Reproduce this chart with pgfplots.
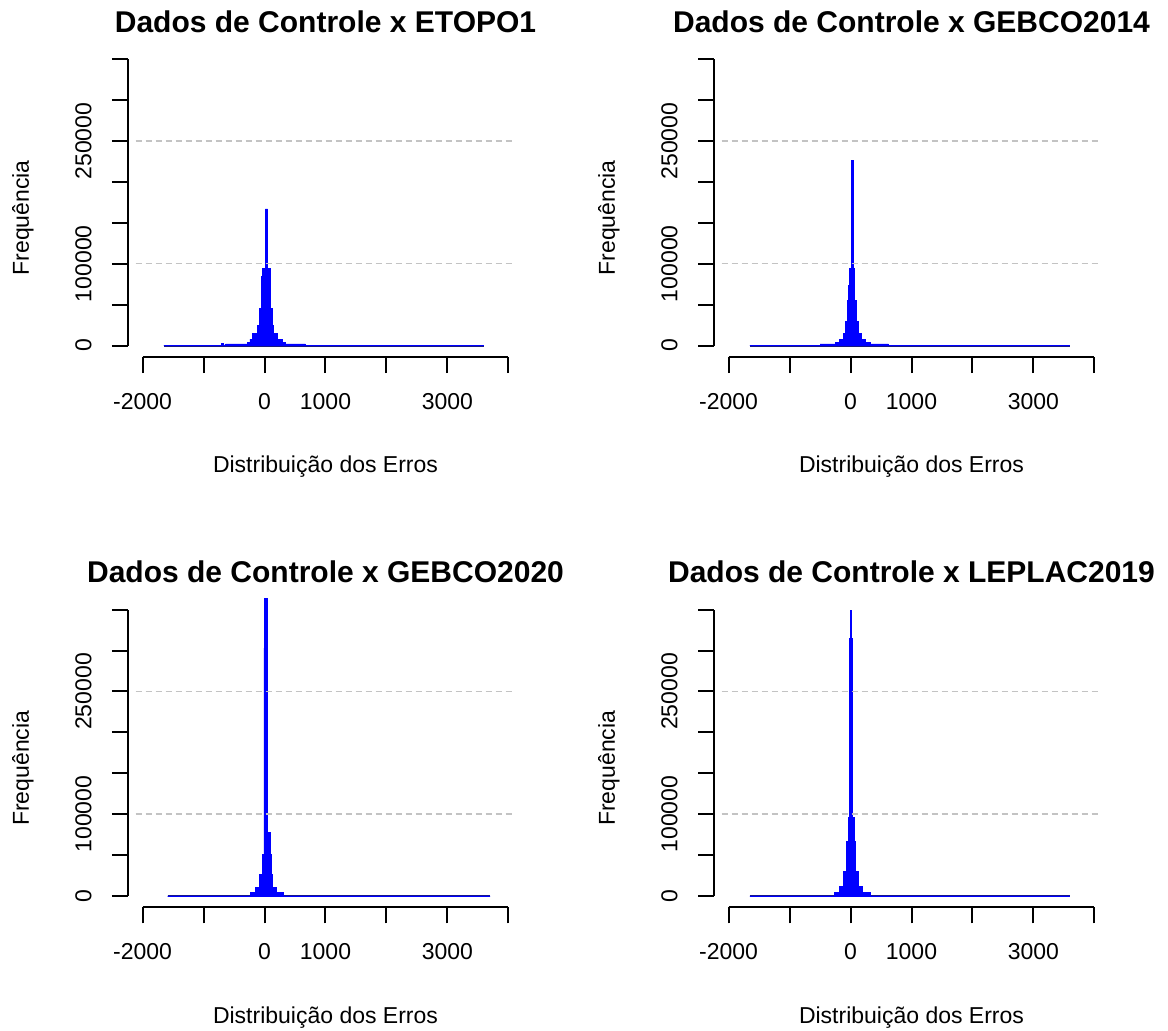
\documentclass[border=0pt]{standalone}
\usepackage{fontspec}
\setmainfont{Liberation Sans}
\usepackage{pgfplots}
\pgfplotsset{compat=1.18}
\definecolor{histblue}{RGB}{0,0,255}
\definecolor{histedge}{RGB}{25,25,125}
\definecolor{gridgray}{RGB}{195,195,195}

\pgfplotsset{
  rpanel/.style={
    anchor=south west, scale only axis, width=197.5pt, height=154.6pt,
    xmin=-2240, xmax=4240, ymin=-14000, ymax=364000,
    axis x line*=bottom, axis y line*=left, axis line style={draw=none},
    tick align=outside, major tick length=8pt,
    tick style={draw=black, line width=1pt},
    xtick={-2000,-1000,0,1000,2000,3000,4000},
    xticklabels={-2000,,0,1000,,3000,},
    ytick={0,50000,100000,150000,200000,250000,300000,350000},
    yticklabels={0,,100000,,,250000,,},
    scaled y ticks=false, scaled x ticks=false,
    ticklabel style={font=\fontsize{11.5}{13}\selectfont, inner sep=0pt},
    xticklabel style={anchor=north},
    xticklabel shift=10pt,
    yticklabel style={rotate=90, anchor=south},
    yticklabel shift=10pt,
    clip mode=individual,
    title style={font=\bfseries\fontsize{15}{18}\selectfont, at={(axis description cs:0.5,1.012)}, anchor=base},
    every axis y label/.style={at={(axis description cs:-0.266,0.45)}, rotate=90, anchor=center, font=\fontsize{11.5}{13}\selectfont},
    every axis x label/.style={at={(axis description cs:0.5,-0.375)}, anchor=base, font=\fontsize{11.5}{13}\selectfont},
    xlabel={Distribuição dos Erros},
    ylabel={Frequência},
  },
  hist/.style={const plot mark left, fill=histblue, draw=histblue, line width=0.4pt, no marks},
  base/.style={draw=histedge, line width=1pt, no marks},
  grid/.style={draw=gridgray, line width=0.7pt, dash pattern=on 3pt off 2pt, no marks},
}

\begin{document}
\begin{tikzpicture}
\path[use as bounding box] (0,0) rectangle (584pt,-515pt);

% ---- Panel 1: ETOPO1
\begin{axis}[rpanel, at={(64pt,-178.5pt)}, title={Dados de Controle x ETOPO1}]
  \addplot[base] coordinates {(-1650,0) (3600,0)};
  \addplot[hist] coordinates {
    (-1650,0) (-700,2500) (-680,800) (-640,2000) (-280,4000) (-240,8000)
    (-200,15000) (-120,25000) (-80,45000) (-50,85000) (-30,94000)
    (15,167000) (50,94000) (100,45000) (125,25000) (150,15000)
    (210,8000) (300,4000) (340,2000) (670,0) (3600,0)} \closedcycle;
  \addplot[grid] coordinates {(-2115,100000) (4080,100000)};
  \addplot[grid] coordinates {(-2115,250000) (4080,250000)};
  \draw[black, line width=1pt] (axis cs:-2000,-14000) -- (axis cs:4000,-14000);
  \draw[black, line width=1pt] (axis cs:-2240,0) -- (axis cs:-2240,350000);
\end{axis}

% ---- Panel 2: GEBCO2014
\begin{axis}[rpanel, at={(357pt,-178.5pt)}, title={Dados de Controle x GEBCO2014}]
  \addplot[base] coordinates {(-1650,0) (3600,0)};
  \addplot[hist] coordinates {
    (-1650,0) (-500,2000) (-250,4000) (-180,8000) (-120,15000) (-80,30000)
    (-50,55000) (-30,73000) (-15,94000) (10,226000) (45,94000)
    (70,55000) (100,30000) (130,15000) (180,8000) (250,4000)
    (330,2000) (620,0) (3600,0)} \closedcycle;
  \addplot[grid] coordinates {(-2115,100000) (4080,100000)};
  \addplot[grid] coordinates {(-2115,250000) (4080,250000)};
  \draw[black, line width=1pt] (axis cs:-2000,-14000) -- (axis cs:4000,-14000);
  \draw[black, line width=1pt] (axis cs:-2240,0) -- (axis cs:-2240,350000);
\end{axis}

% ---- Panel 3: GEBCO2020
\begin{axis}[rpanel, at={(64pt,-453.7pt)}, title={Dados de Controle x GEBCO2020}]
  \addplot[base] coordinates {(-1590,0) (3700,0)};
  \addplot[hist] coordinates {
    (-1590,0) (-230,4000) (-150,10000) (-80,26000) (-38,50500)
    (-10,303000) (5,400000) (45,303000) (54,77600) (100,50500)
    (110,26000) (130,10000) (200,4000) (310,0) (3700,0)} \closedcycle;
  \addplot[grid] coordinates {(-2115,100000) (4080,100000)};
  \addplot[grid] coordinates {(-2115,250000) (4080,250000)};
  \draw[black, line width=1pt] (axis cs:-2000,-14000) -- (axis cs:4000,-14000);
  \draw[black, line width=1pt] (axis cs:-2240,0) -- (axis cs:-2240,350000);
\end{axis}

% ---- Panel 4: LEPLAC2019
\begin{axis}[rpanel, at={(357pt,-453.7pt)}, title={Dados de Controle x LEPLAC2019}]
  \addplot[base] coordinates {(-1650,0) (3600,0)};
  \addplot[hist] coordinates {
    (-1650,0) (-260,4000) (-180,12000) (-115,29500) (-65,66500)
    (-30,96000) (-15,315000) (-5,348700) (20,315000) (35,96000)
    (60,66500) (75,29500) (130,12000) (200,4000) (320,0) (3600,0)} \closedcycle;
  \addplot[grid] coordinates {(-2115,100000) (4080,100000)};
  \addplot[grid] coordinates {(-2115,250000) (4080,250000)};
  \draw[black, line width=1pt] (axis cs:-2000,-14000) -- (axis cs:4000,-14000);
  \draw[black, line width=1pt] (axis cs:-2240,0) -- (axis cs:-2240,350000);
\end{axis}
\end{tikzpicture}
\end{document}
